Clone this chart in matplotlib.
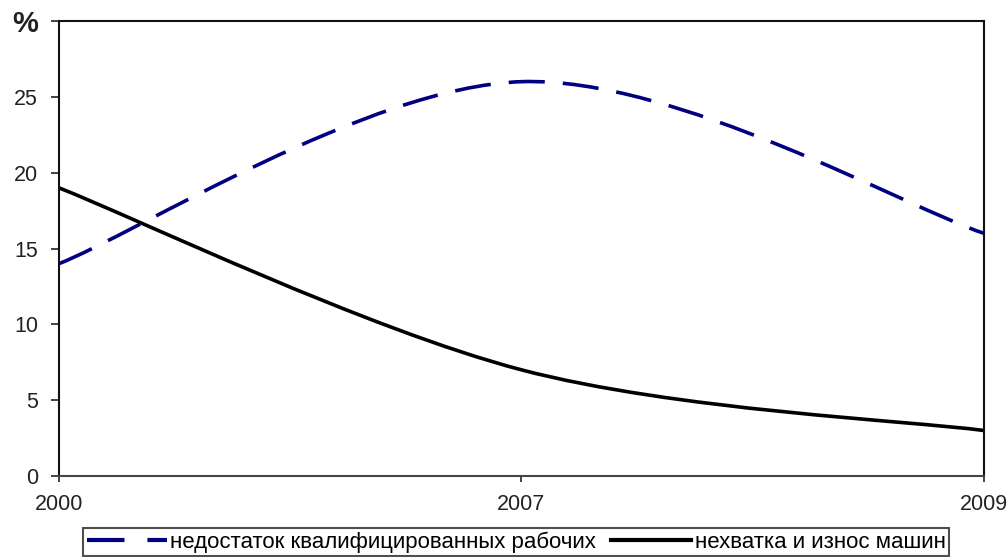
import matplotlib.pyplot as plt
import numpy as np
from matplotlib.lines import Line2D
from matplotlib.patches import PathPatch
from matplotlib.path import Path

plt.rcParams["font.family"] = ["Liberation Sans", "DejaVu Sans"]

years = ["2000", "2007", "2009"]
workers_short = [14, 26, 16]      # недостаток квалифицированных рабочих
machines_worn = [19, 7, 3]        # нехватка и износ машин
y_ticks = [0, 5, 10, 15, 20, 25, 30]
y_labels = ["0", "5", "10", "15", "20", "25", "%"]

NAVY = "#000080"


def smooth_path(xs, ys, k=1 / 6):
    """Excel-style smoothed line: cubic Bezier through every point."""
    pts = np.column_stack([xs, ys]).astype(float)
    n = len(pts)
    verts = [pts[0]]
    codes = [Path.MOVETO]
    for i in range(n - 1):
        p_prev = pts[max(i - 1, 0)]
        p0, p1 = pts[i], pts[i + 1]
        p_next = pts[min(i + 2, n - 1)]
        c1 = p0 + (p1 - p_prev) * k
        c2 = p1 - (p_next - p0) * k
        verts += [c1, c2, p1]
        codes += [Path.CURVE4] * 3
    return Path(verts, codes)


fig = plt.figure(figsize=(10.08, 5.57), dpi=100)
ax = fig.add_axes([0.0585, 0.1454, 0.9177, 0.8169])

x = np.arange(len(years))
ax.add_patch(PathPatch(smooth_path(x, workers_short), fill=False,
                       edgecolor=NAVY, lw=2.6, linestyle=(0, (10, 5)),
                       capstyle="butt"))
ax.add_patch(PathPatch(smooth_path(x, machines_worn), fill=False,
                       edgecolor="black", lw=2.6))

ax.set_xlim(0, len(years) - 1)
ax.set_ylim(0, 30)
ax.set_xticks(x, years)
ax.set_yticks(y_ticks, y_labels)
ax.tick_params(axis="y", direction="out", length=6, width=1.2, pad=9,
               labelsize=15.5, colors="#222222")
ax.tick_params(axis="x", direction="out", length=4, width=1.2, pad=9,
               labelsize=15.5, colors="#222222")
pct = ax.get_yticklabels()[-1]
pct.set_fontsize(21)
pct.set_fontweight("bold")

for side in ["left", "top", "right"]:
    ax.spines[side].set_color("#111111")
    ax.spines[side].set_linewidth(1.5)
ax.spines["bottom"].set_color("#444444")
ax.spines["bottom"].set_linewidth(1.5)

handles = [
    Line2D([], [], color=NAVY, lw=3, linestyle=(0, (9, 5.5))),
    Line2D([], [], color="black", lw=3),
]
labels = ["недостаток квалифицированных рабочих", "нехватка и износ машин"]
leg = fig.legend(handles, labels, loc="upper center",
                 bbox_to_anchor=(0.512, 0.052), ncol=2, fontsize=16,
                 frameon=True, fancybox=False, edgecolor="#222222",
                 handlelength=3.6, handletextpad=0.15, columnspacing=0.7,
                 borderpad=0.15, borderaxespad=0)
leg.get_frame().set_linewidth(1.5)

fig.savefig("out.png", dpi=100)
